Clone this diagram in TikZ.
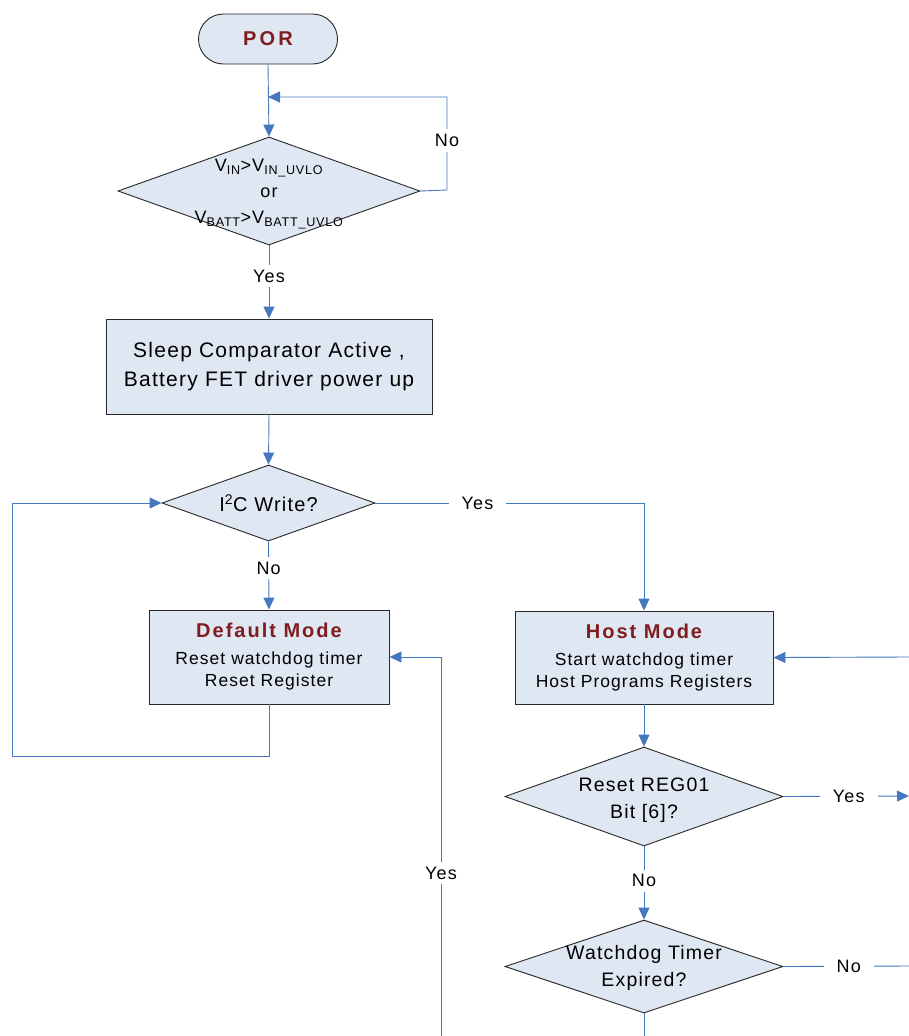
\documentclass[tikz,border=0pt]{standalone}
\usepackage{fontspec}
\setmainfont{Liberation Sans}[LetterSpace=6]
\usetikzlibrary{arrows.meta,shapes.geometric,positioning}
\definecolor{BoxFill}{RGB}{223,231,242}
\definecolor{FlowBlue}{RGB}{70,120,192}
\definecolor{ModeRed}{RGB}{128,28,32}
\definecolor{EdgeGray}{RGB}{40,40,40}
\newcommand{\modetitle}[1]{{\color{ModeRed}\fontsize{20}{22}\selectfont\bfseries\addfontfeature{LetterSpace=10}#1}}

\begin{document}
\begin{tikzpicture}[x=1pt,y=-1pt,>={Triangle[length=12pt,width=11pt]},
    box/.style={draw=EdgeGray,line width=0.9pt,fill=BoxFill,align=center,inner sep=0pt},
    term/.style={box,rounded corners=25pt,minimum width=139pt,minimum height=50pt},
    decide/.style={diamond,draw=EdgeGray,line width=0.9pt,fill=BoxFill,inner sep=0pt},
    txt/.style={align=center,font=\fontsize{19.5}{27}\selectfont},
    flow/.style={FlowBlue,line width=0.9pt},
    lbl/.style={fill=white,inner xsep=13pt,inner ysep=5pt,text=black,font=\fontsize{18}{20}\selectfont}]
  \useasboundingbox (0,0) rectangle (909,1036);
  % left column
  \node[term] (por) at (268,39) {\fontsize{20}{24}\selectfont\bfseries\addfontfeature{LetterSpace=16}\color{ModeRed}POR};
  \node[decide,minimum width=302pt,minimum height=108pt] (d1) at (269,191) {};
  \node[txt,font=\fontsize{18}{26}\selectfont,yshift=-3pt] at (d1)
    {V\textsubscript{IN}>V\textsubscript{IN\_UVLO}\\or\\V\textsubscript{BATT}>V\textsubscript{BATT\_UVLO}};
  \node[box,minimum width=326pt,minimum height=95pt,font=\fontsize{21}{29}\selectfont] (sleep) at (269,366.5)
    {Sleep Comparator Active ,\\Battery FET driver power up};
  \node[decide,minimum width=213pt,minimum height=76pt] (d2) at (268.5,503) {};
  \node[txt,font=\fontsize{20}{24}\selectfont] at (d2) {I\textsuperscript{2}C Write?};
  \node[box,minimum width=240pt,minimum height=94pt,font=\fontsize{17.5}{22}\selectfont] (dflt) at (269,657)
    {\modetitle{Default Mode}\\[5pt]Reset watchdog timer\\Reset Register};
  % right column
  \node[box,minimum width=258pt,minimum height=93pt,font=\fontsize{17.5}{22}\selectfont] (host) at (644,657.5)
    {\modetitle{Host Mode}\\[5pt]Start watchdog timer\\Host Programs Registers};
  \node[decide,minimum width=278pt,minimum height=99pt] (d3) at (644,796.5) {};
  \node[txt,yshift=-4pt] at (d3) {Reset REG01\\Bit [6]?};
  \node[decide,minimum width=278pt,minimum height=93pt] (d4) at (644,966.5) {};
  \node[txt,yshift=-1pt] at (d4) {Watchdog Timer\\Expired?};
  % loose ends
  \coordinate (j1) at (268,97);
  \coordinate (hin) at (909,657);
  \coordinate (yin) at (441,1036);
  \coordinate (yout) at (909,796);
  \coordinate (nout) at (909,966);
  \coordinate (down) at (644,1036);
  % connectors
  \draw[flow,->] (por.south) -- (d1.north);
  \draw[flow,->] (d1.east) -- (447,190) -- node[lbl,pos=0.53]{No} (447,97) -- (j1);
  \draw[flow,->] (d1.south) -- node[lbl,pos=0.42]{Yes} (sleep.north);
  \draw[flow,->] (sleep.south) -- (d2.north);
  \draw[flow,->] (d2.east) -- node[lbl,pos=0.38]{Yes} (644,503) -- (host.north);
  \draw[flow,->] (d2.south) -- node[lbl,pos=0.39]{No} (dflt.north);
  \draw[flow,->] (dflt.south) |- (12,756) |- (d2.west);
  \draw[flow,->] (yin) |- node[lbl,pos=0.215]{Yes} (dflt.east);
  \draw[flow,->] (hin) -- (host.east);
  \draw[flow,->] (host.south) -- (d3.north);
  \draw[flow,->] (d3.east) -- node[lbl,pos=0.52]{Yes} (yout);
  \draw[flow,->] (d3.south) -- node[lbl,pos=0.47]{No} (d4.north);
  \draw[flow] (d4.east) -- node[lbl,pos=0.52]{No} (nout);
  \draw[flow] (d4.south) -- (down);
\end{tikzpicture}
\end{document}
